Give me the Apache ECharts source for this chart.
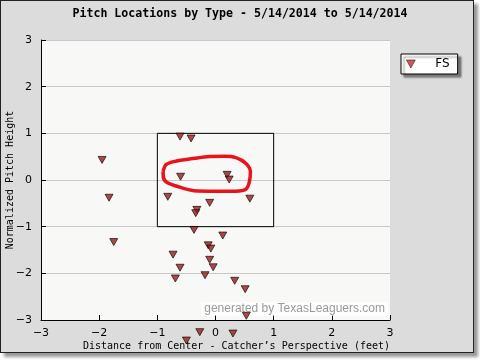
<!DOCTYPE html>
<html><head><meta charset="utf-8">
<script src="https://cdn.jsdelivr.net/npm/echarts@6/dist/echarts.min.js"></script>
<style>
html,body{margin:0;padding:0;background:#fff;}
#frame{position:absolute;left:0;top:0;width:472px;height:351px;background:#dcdcdc;border:1px solid #222;box-shadow:4px 4px 3px #999;}
#chart{position:absolute;left:0;top:0;width:480px;height:360px;}
</style></head>
<body>
<div id="frame"></div>
<div id="chart"></div>
<script>
// Pitch locations (feet from center, normalized height)
const pitchX = [-0.61,-0.42,-1.95,-0.60,0.20,0.235,-1.83,-0.82,0.59,-0.10,-0.32,-0.34,-0.37,0.125,-1.75,-0.125,-0.08,-0.73,-0.10,-0.04,-0.61,-0.18,-0.69,0.33,0.51,0.53,-0.27,0.30,-0.50];
const pitchY = [0.93,0.89,0.43,0.07,0.11,0.01,-0.38,-0.36,-0.40,-0.49,-0.64,-0.71,-1.07,-1.19,-1.33,-1.40,-1.47,-1.60,-1.71,-1.87,-1.88,-2.04,-2.11,-2.16,-2.34,-2.91,-3.26,-3.29,-3.44];
// Strike zone bounds [xmin, xmax, ymin, ymax]
const zone = [-1, 1, -1, 1];
// Hand-drawn red annotation loop
const loopX = [-0.90,-0.85,-0.70,-0.45,-0.15,0.15,0.35,0.52,0.60,0.58,0.52,0.35,0.00,-0.37,-0.65,-0.85,-0.90,-0.90];
const loopY = [0.19,0.33,0.40,0.45,0.50,0.51,0.48,0.36,0.18,-0.05,-0.20,-0.24,-0.24,-0.23,-0.14,-0.04,0.10,0.19];
const seriesName = 'FS';
const titleText = 'Pitch Locations by Type - 5/14/2014 to 5/14/2014';
const xName = 'Distance from Center - Catcher\u2019s Perspective (feet)';
const yName = 'Normalized Pitch Height';

const tri = 'path://M0,0L10,0L5,9Z';
const fmt = v => String(v).replace('-', '\u2212');
const chart = echarts.init(document.getElementById('chart'), null, {renderer:'canvas'});
chart.setOption({
  animation:false,
  title:{text:titleText,left:'center',top:3,textStyle:{fontFamily:'DejaVu Sans Mono',fontWeight:'bold',fontSize:11.6,color:'#000'}},
  legend:{data:[{name:seriesName,itemStyle:{color:'#c4282b',borderColor:'#333',borderWidth:0.8}}],
    left:401,top:54,orient:'vertical',icon:tri,itemWidth:11,itemHeight:8,
    padding:[4,8,4,5],backgroundColor:'#fff',borderColor:'#000',borderWidth:1,
    shadowColor:'rgba(0,0,0,0.45)',shadowOffsetX:3,shadowOffsetY:3,shadowBlur:2,
    textStyle:{fontFamily:'DejaVu Sans',fontSize:12,color:'#000',padding:[0,0,0,14]}},
  grid:{left:41,right:90,top:40,bottom:40,show:true,backgroundColor:'#f8f9f7',borderWidth:0,outerBoundsMode:'none',containLabel:false},
  xAxis:{type:'value',min:-3,max:3,interval:1,name:xName,nameLocation:'middle',nameGap:21,nameMoveOverlap:false,
    nameTextStyle:{fontFamily:'DejaVu Sans Mono',fontSize:10,color:'#000',padding:[0,0,0,42]},
    axisLine:{show:true,onZero:false,lineStyle:{color:'#000',width:1}},
    axisTick:{show:true,inside:true,length:5,lineStyle:{color:'#000'}},
    axisLabel:{formatter:fmt,fontFamily:'DejaVu Sans',fontSize:11,color:'#000',margin:8},
    splitLine:{show:false}},
  yAxis:{type:'value',min:-3,max:3,interval:1,name:yName,nameLocation:'middle',nameGap:26,nameMoveOverlap:false,
    nameTextStyle:{fontFamily:'DejaVu Sans Mono',fontSize:10,color:'#000'},
    axisLine:{show:true,onZero:false,lineStyle:{color:'#000',width:1}},
    axisTick:{show:true,inside:true,length:5,lineStyle:{color:'#000'}},
    axisLabel:{formatter:fmt,fontFamily:'DejaVu Sans',fontSize:11,color:'#000',margin:9},
    splitLine:{show:true,lineStyle:{color:'#c8c8c8',width:1}}},
  graphic:[{type:'text',right:92,bottom:44,z:1,
    style:{text:'generated by TexasLeaguers.com',fontFamily:'Liberation Sans',fontSize:12,fill:'#9a9a9a',backgroundColor:'rgba(255,255,255,0.6)',padding:[1,3]}}],
  series:[
    {name:seriesName,type:'scatter',clip:false,z:5,symbol:tri,symbolSize:[8,7],
     itemStyle:{color:'#9c1a1a',borderColor:'#000',borderWidth:0.8},
     data:pitchX.map((x,i)=>[x,pitchY[i]]),
     markArea:{silent:true,itemStyle:{color:'rgba(0,0,0,0)',borderColor:'#000',borderWidth:1},
       data:[[{coord:[zone[0],zone[2]]},{coord:[zone[1],zone[3]]}]]}},
    {name:'annotation',type:'line',smooth:0.3,symbol:'none',silent:true,z:6,
     lineStyle:{color:'#e8141b',width:3.5},
     data:loopX.map((x,i)=>[x,loopY[i]])}
  ]
});
</script>
</body></html>
